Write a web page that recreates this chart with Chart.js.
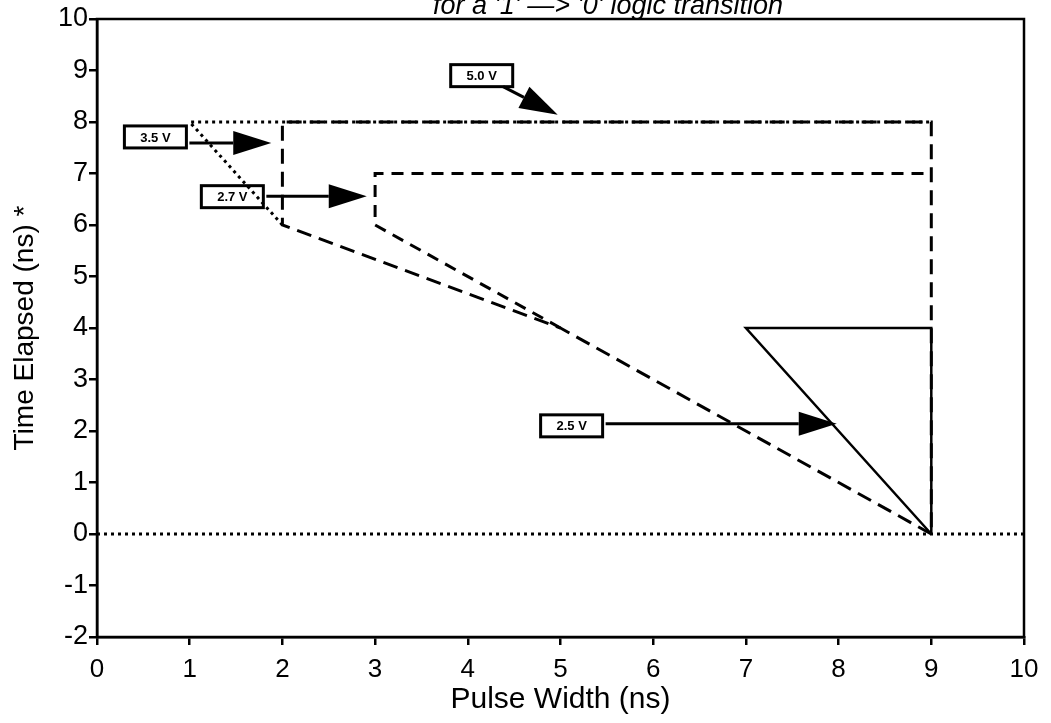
<!DOCTYPE html>
<html>
<head>
<meta charset="utf-8">
<script src="https://cdn.jsdelivr.net/npm/chart.js@4.4.1/dist/chart.umd.min.js"></script>
<style>
  html, body { margin: 0; padding: 0; background: #fff; }
  #wrap { width: 1051px; height: 723px; }
</style>
</head>
<body>
<div id="wrap"><canvas id="glitchChart" width="1051" height="723"></canvas></div>
<script>
const xTicks = [0, 1, 2, 3, 4, 5, 6, 7, 8, 9, 10];
const yTicks = [-2, -1, 0, 1, 2, 3, 4, 5, 6, 7, 8, 9, 10];

// region outlines, one per supply voltage
const v50X = [2, 1, 9];
const v50Y = [6, 8, 8];
const v35X = [9, 5, 2, 2, 9, 9];
const v35Y = [0, 4, 6, 8, 8, 0];
const v27X = [5, 3, 3, 9];
const v27Y = [4, 6, 7, 7];
const v25X = [9, 7, 9, 9];
const v25Y = [0, 4, 4, 0];
const zeroX = [0, 10];
const zeroY = [0, 0];

// boxed labels with arrows
const labelText = ["5.0 V", "3.5 V", "2.7 V", "2.5 V"];
const labelX = [4.15, 0.63, 1.46, 5.12];
const labelY = [8.9, 7.71, 6.55, 2.1];
const tipX = [4.97, 1.88, 2.91, 7.98];
const tipY = [8.14, 7.59, 6.56, 2.14];

const FONT = '"Liberation Sans", Arial, sans-serif';

function pts(xs, ys) {
  return xs.map((x, i) => ({ x: x, y: ys[i] }));
}

function line(label, xs, ys, dash, width) {
  return {
    label: label,
    data: pts(xs, ys),
    showLine: true,
    borderColor: "#000",
    borderWidth: width,
    borderDash: dash,
    pointRadius: 0,
    fill: false,
    tension: 0,
  };
}

const extras = {
  id: "extras",
  afterDraw(chart) {
    const ctx = chart.ctx;
    const a = chart.chartArea;
    const sx = chart.scales.x;
    const sy = chart.scales.y;
    ctx.save();

    // frame
    ctx.strokeStyle = "#000";
    ctx.lineWidth = 2.5;
    ctx.setLineDash([]);
    ctx.strokeRect(a.left, a.top, a.right - a.left, a.bottom - a.top);

    // title, cut by the top edge
    ctx.fillStyle = "#000";
    ctx.font = "italic 27px " + FONT;
    ctx.textAlign = "center";
    ctx.textBaseline = "alphabetic";
    ctx.fillText("for a '1' \u2014> '0' logic transition", 608, 14);

    // boxed labels
    labelText.forEach((t, i) => {
      const cx = sx.getPixelForValue(labelX[i]);
      const cy = sy.getPixelForValue(labelY[i]);
      const tx = sx.getPixelForValue(tipX[i]);
      const ty = sy.getPixelForValue(tipY[i]);
      const w = 62, h = 22;
      ctx.lineWidth = 3;
      ctx.strokeRect(cx - w / 2, cy - h / 2, w, h);
      ctx.font = "bold 13px " + FONT;
      ctx.textAlign = "center";
      ctx.textBaseline = "middle";
      ctx.fillText(t, cx, cy + 1);

      let x0, y0;
      const dx = tx - cx, dy = ty - cy;
      if (Math.abs(dx) > 3 * Math.abs(dy)) {
        x0 = cx + w / 2 + 3;
        y0 = ty;
      } else {
        const k = Math.min((w / 2) / Math.abs(dx), (h / 2) / Math.abs(dy));
        x0 = cx + dx * k;
        y0 = cy + dy * k;
      }
      const ang = Math.atan2(ty - y0, tx - x0);
      const len = 38, half = 12;
      const bx = tx - len * Math.cos(ang);
      const by = ty - len * Math.sin(ang);
      ctx.lineWidth = 3;
      ctx.beginPath();
      ctx.moveTo(x0, y0);
      ctx.lineTo(bx, by);
      ctx.stroke();
      ctx.beginPath();
      ctx.moveTo(tx, ty);
      ctx.lineTo(bx + half * Math.sin(ang), by - half * Math.cos(ang));
      ctx.lineTo(bx - half * Math.sin(ang), by + half * Math.cos(ang));
      ctx.closePath();
      ctx.fill();
    });
    ctx.restore();
  },
};

new Chart(document.getElementById("glitchChart"), {
  type: "scatter",
  data: {
    datasets: [
      line("zero", zeroX, zeroY, [3, 4], 3),
      line("5.0 V", v50X, v50Y, [3, 4], 3),
      line("3.5 V", v35X, v35Y, [15, 8], 3),
      line("2.7 V", v27X, v27Y, [12, 8], 3),
      line("2.5 V", v25X, v25Y, [], 2.5),
    ],
  },
  options: {
    responsive: false,
    animation: false,
    layout: { padding: { top: 19, right: 27, left: 0, bottom: 0 } },
    plugins: { legend: { display: false }, tooltip: { enabled: false } },
    scales: {
      x: {
        type: "linear",
        min: 0,
        max: 10,
        afterBuildTicks: (s) => { s.ticks = xTicks.map((v) => ({ value: v })); },
        afterFit: (s) => { s.height = 86; },
        ticks: { color: "#000", font: { size: 26, family: FONT }, padding: 9, maxRotation: 0 },
        grid: { drawOnChartArea: false, drawTicks: true, tickLength: 8, color: "#000", lineWidth: 2.5 },
        border: { display: true, color: "#000", width: 2.5 },
        title: { display: true, text: "Pulse Width (ns)", color: "#000", font: { size: 30, family: FONT }, padding: { top: 0, bottom: 5 } },
      },
      y: {
        type: "linear",
        min: -2,
        max: 10,
        afterBuildTicks: (s) => { s.ticks = yTicks.map((v) => ({ value: v })); },
        afterFit: (s) => { s.width = 97; },
        ticks: { color: "#000", font: { size: 27, family: FONT }, padding: 1 },
        grid: { drawOnChartArea: false, drawTicks: true, tickLength: 8, color: "#000", lineWidth: 2.5 },
        border: { display: true, color: "#000", width: 2.5 },
        title: { display: true, text: "Time Elapsed (ns) *", color: "#000", font: { size: 28, family: FONT }, padding: { top: 8, bottom: 0 } },
      },
    },
  },
  plugins: [extras],
});
</script>
</body>
</html>
